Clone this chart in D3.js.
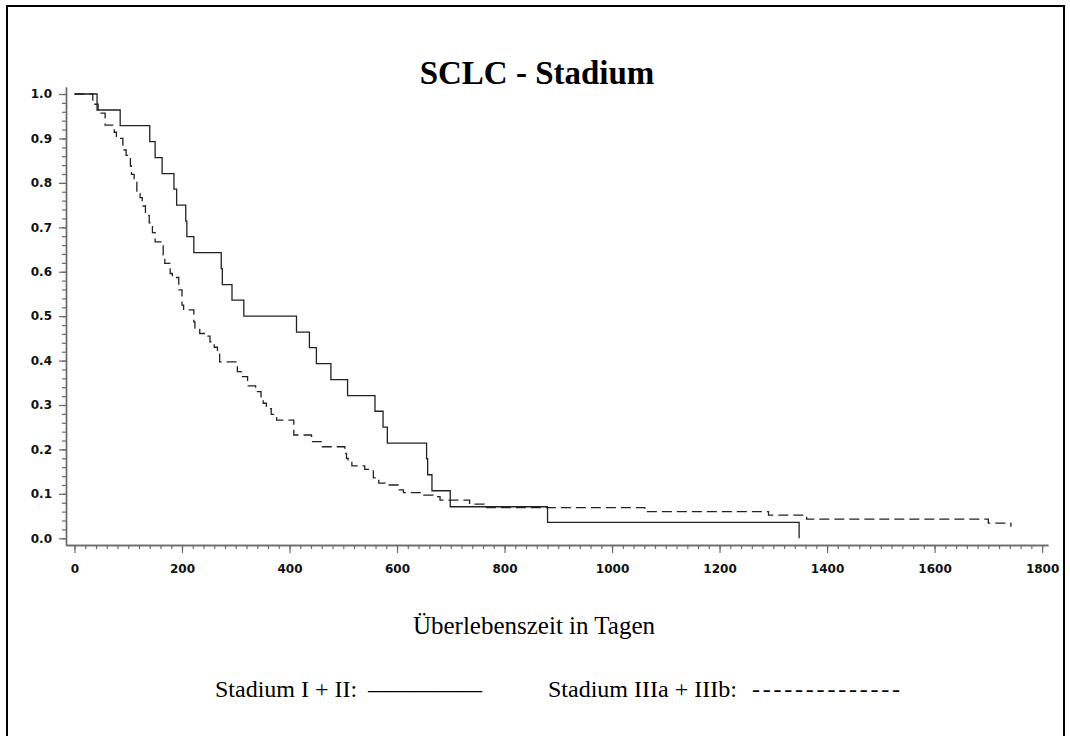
<!DOCTYPE html>
<html>
<head>
<meta charset="utf-8">
<script src="https://cdn.jsdelivr.net/npm/d3@7"></script>
<style>
  body { margin: 0; background: #fff; }
  svg { display: block; }
</style>
</head>
<body>
<svg id="chart" width="1070" height="736"></svg>
<script>
// Kaplan-Meier survival, SCLC by stage

const titleText = "SCLC - Stadium";
const xAxisTitle = "Überlebenszeit in Tagen";
const legendLabels = ["Stadium I + II:", "Stadium IIIa + IIIb:"];

const xTickValues = [0, 200, 400, 600, 800, 1000, 1200, 1400, 1600, 1800];
const yTickValues = [0.0, 0.1, 0.2, 0.3, 0.4, 0.5, 0.6, 0.7, 0.8, 0.9, 1.0];

// Stadium I + II: event days and survival after each event
const stageEarlyDays = [0, 42, 85, 140, 150, 163, 185, 190, 207, 209, 222, 273, 275, 293, 315,
  413, 437, 450, 477, 508, 559, 574, 582, 655, 657, 665, 699, 880, 1348];
const stageEarlySurv = [1.0, 0.964, 0.929, 0.893, 0.857, 0.821, 0.786, 0.75, 0.714, 0.679, 0.643,
  0.607, 0.571, 0.536, 0.5, 0.464, 0.429, 0.393, 0.357, 0.321, 0.286, 0.25, 0.214, 0.179, 0.143,
  0.107, 0.071, 0.036, 0.0];

// Stadium IIIa + IIIb: event days and survival after each event
const stageLateDays = [0, 34, 44, 48, 57, 74, 78, 90, 96, 104, 106, 111, 116, 122, 126, 132, 139,
  145, 150, 165, 168, 178, 182, 194, 200, 203, 222, 224, 233, 243, 252, 260, 266, 270, 303, 310,
  322, 337, 347, 351, 357, 366, 376, 408, 441, 461, 503, 506, 509, 516, 540, 556, 566, 578, 602,
  612, 650, 667, 680, 735, 762, 1061, 1291, 1362, 1700, 1742];
const stageLateSurv = [1.0, 0.977, 0.964, 0.957, 0.93, 0.914, 0.90, 0.874, 0.862, 0.838, 0.819,
  0.804, 0.776, 0.767, 0.748, 0.727, 0.71, 0.688, 0.667, 0.638, 0.619, 0.596, 0.587, 0.559, 0.525,
  0.514, 0.487, 0.473, 0.461, 0.455, 0.442, 0.43, 0.415, 0.397, 0.375, 0.364, 0.343, 0.33, 0.311,
  0.304, 0.292, 0.279, 0.266, 0.2325, 0.2175, 0.206, 0.191, 0.18, 0.176, 0.163, 0.155, 0.136,
  0.124, 0.12, 0.109, 0.1026, 0.097, 0.094, 0.086, 0.077, 0.069, 0.06, 0.052, 0.043, 0.034, 0.026];

const svg = d3.select("#chart");

// page frame
svg.append("path")
  .attr("d", "M7,740 V6 H1064 V740")
  .attr("fill", "none")
  .attr("stroke", "#000")
  .attr("stroke-width", 2);

// scales: axis lines run a little past 0 and 1800 / 0.0 and 1.0
const x = d3.scaleLinear().domain([-15.8, 1811]).range([66, 1048]);
const y = d3.scaleLinear().domain([-0.0151, 1.0158]).range([545, 87]);

const tickFont = "'DejaVu Sans', Verdana, sans-serif";
const axisColor = "#6a6a6a";

// minor ticks
const xMinor = d3.range(0, 1801, 20);
const yMinor = d3.range(0, 51).map(i => i / 50);

const xAxisG = svg.append("g").attr("transform", `translate(0,${y.range()[0]})`);
xAxisG.append("g")
  .call(d3.axisBottom(x).tickValues(xMinor).tickSize(4).tickSizeOuter(0).tickFormat(""));
xAxisG.append("g")
  .call(d3.axisBottom(x).tickValues(xTickValues).tickSize(8).tickSizeOuter(0).tickPadding(11)
    .tickFormat(d3.format("d")));

const yAxisG = svg.append("g").attr("transform", `translate(${x.range()[0]},0)`);
yAxisG.append("g")
  .call(d3.axisLeft(y).tickValues(yMinor).tickSize(4).tickSizeOuter(0).tickFormat(""));
yAxisG.append("g")
  .call(d3.axisLeft(y).tickValues(yTickValues).tickSize(7).tickSizeOuter(0).tickPadding(7)
    .tickFormat(d3.format(".1f")));

svg.selectAll(".domain").attr("stroke", axisColor).attr("stroke-width", 1.4);
svg.selectAll(".tick line").attr("stroke", axisColor).attr("stroke-width", 1.2);
svg.selectAll(".tick text")
  .attr("font-family", tickFont)
  .attr("font-weight", "bold")
  .attr("font-size", 12)
  .attr("fill", "#111");

// survival step curves
const stepLine = d3.line()
  .x(d => x(d[0]))
  .y(d => y(d[1]))
  .curve(d3.curveStepAfter);

svg.append("path")
  .datum(d3.zip(stageEarlyDays, stageEarlySurv))
  .attr("d", stepLine)
  .attr("fill", "none")
  .attr("stroke", "#222")
  .attr("stroke-width", 1.3);

svg.append("path")
  .datum(d3.zip(stageLateDays, stageLateSurv))
  .attr("d", stepLine)
  .attr("fill", "none")
  .attr("stroke", "#222")
  .attr("stroke-width", 1.3)
  .attr("stroke-dasharray", "10,5");

// titles
const serif = "'Liberation Serif', 'Times New Roman', serif";

svg.append("text")
  .attr("x", 537).attr("y", 84)
  .attr("text-anchor", "middle")
  .attr("font-family", serif)
  .attr("font-weight", "bold")
  .attr("font-size", 33)
  .text(titleText);

svg.append("text")
  .attr("x", 534).attr("y", 634)
  .attr("text-anchor", "middle")
  .attr("font-family", serif)
  .attr("font-size", 25)
  .text(xAxisTitle);

// legend
const legend = svg.append("g").attr("font-family", serif).attr("font-size", 24);
legend.append("text").attr("x", 215).attr("y", 697).text(legendLabels[0]);
legend.append("text").attr("x", 368).attr("y", 697)
  .attr("textLength", 114).attr("lengthAdjust", "spacingAndGlyphs").text("—————");
legend.append("text").attr("x", 548).attr("y", 697).text(legendLabels[1]);
legend.append("text").attr("x", 752).attr("y", 697)
  .attr("textLength", 148).attr("lengthAdjust", "spacing").text("--------------");
</script>
</body>
</html>
